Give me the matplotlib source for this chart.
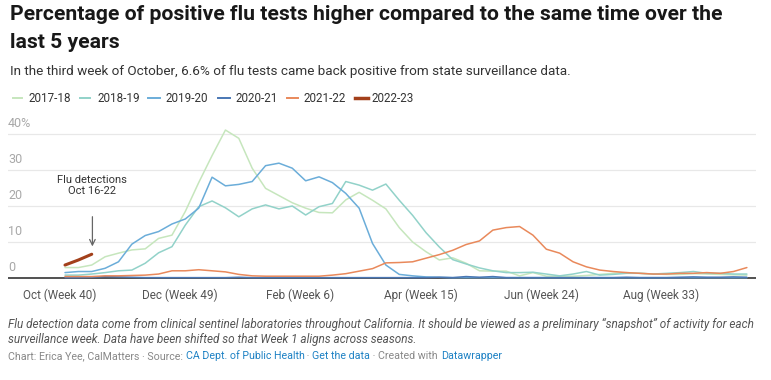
import matplotlib
matplotlib.use("Agg")
import matplotlib.pyplot as plt
from matplotlib.lines import Line2D
import numpy as np

plt.rcParams['font.family'] = ['Roboto', 'DejaVu Sans']

W, H = 771, 380

# season weeks: week 40 .. week 39 of the next year (52 points)
tick_pos = [0, 9, 18, 27, 36, 45]
tick_labels = ["Oct (Week 40)", "Dec (Week 49)", "Feb (Week 6)",
               "Apr (Week 15)", "Jun (Week 24)", "Aug (Week 33)"]

s2017 = [2.9, 2.9, 3.6, 5.9, 6.9, 7.8, 8.1, 11.0, 11.9, 18.5, 26.5, 34.0, 41.1,
         38.8, 30.5, 24.9, 22.9, 20.9, 19.4, 18.2, 18.1, 21.7, 23.8, 21.6, 19.2,
         14.0, 10.0, 7.3, 5.0, 5.6, 4.1, 2.0, 1.9, 1.9, 0.6, 1.5, 0.5, 0.5, 0.5,
         0.7, 1.0, 1.3, 1.5, 1.3, 1.1, 1.0, 1.0, 1.2, 1.1, 1.0, 0.9, 0.8]
s2018 = [0.8, 0.8, 1.1, 1.5, 2.0, 2.2, 4.1, 7.0, 8.7, 14.7, 19.8, 21.4, 19.5,
         17.0, 19.2, 20.3, 19.2, 20.0, 17.5, 19.8, 20.7, 26.8, 25.8, 24.4, 26.1,
         21.6, 17.4, 12.6, 8.6, 5.1, 3.9, 2.8, 2.0, 1.5, 1.5, 1.6, 1.1, 0.6, 1.1,
         1.8, 0.8, 1.0, 1.3, 1.3, 1.1, 1.3, 1.5, 1.8, 1.3, 1.3, 1.1, 1.1]
s2019 = [1.5, 1.8, 1.8, 2.7, 4.5, 9.4, 11.8, 12.9, 15.0, 16.4, 19.4, 28.0, 25.6,
         26.0, 26.8, 31.2, 31.9, 30.5, 27.0, 28.1, 26.5, 23.5, 19.4, 9.6, 3.6,
         1.0, 0.6, 0.3, 0.2, 0.1, 0.1, 0.1, 0.1, 0.1, 0.1, 0.1, 0.1, 0.1, 0.1,
         0.1, 0.1, 0.1, 0.1, 0.1, 0.1, 0.1, 0.1, 0.1, 0.1, 0.1, 0.1, 0.1]
s2020 = [0.1, 0.1, 0.2, 0.4, 0.3, 0.2, 0.1, 0.1, 0.1, 0.1, 0.1, 0.1, 0.1, 0.2,
         0.1, 0.1, 0.1, 0.1, 0.1, 0.1, 0.1, 0.1, 0.1, 0.1, 0.1, 0.1, 0.1, 0.1,
         0.2, 0.1, 0.4, 0.2, 0.4, 0.1, 0.1, 0.1, 0.1, 0.1, 0.1, 0.1, 0.1, 0.1,
         0.2, 0.1, 0.1, 0.1, 0.2, 0.3, 0.2, 0.2, 0.3, 0.2]
s2021 = [0.4, 0.4, 0.4, 0.6, 0.6, 0.7, 0.8, 1.1, 2.0, 2.0, 2.3, 2.0, 1.7, 1.0,
         0.6, 0.5, 0.5, 0.5, 0.5, 0.5, 0.8, 1.2, 1.9, 2.6, 4.2, 4.3, 4.5, 5.5,
         6.5, 7.7, 9.3, 10.3, 13.3, 14.0, 14.3, 11.9, 8.0, 6.9, 4.5, 3.1, 2.2,
         1.8, 1.5, 1.3, 1.1, 1.1, 1.3, 1.3, 1.5, 1.3, 1.8, 2.9]
s2022 = [3.6, 5.0, 6.6]

seasons = ["2017-18", "2018-19", "2019-20", "2020-21", "2021-22", "2022-23"]
series = [s2017, s2018, s2019, s2020, s2021, s2022]
colors = ["#c6e6bd", "#92d2c9", "#6badd9", "#4a77b4", "#e9895b", "#a3401b"]
widths = [1.1, 1.1, 1.1, 1.1, 1.1, 2.2]


def px(x, y):
    return x / W, 1 - y / H


fig = plt.figure(figsize=(W / 100, H / 100), dpi=100)
fig.patch.set_facecolor("white")

# plot area: x pixel 8..756, y pixel 125..282 (0% at 278, 10% = 36px)
l, b = px(8, 282)
r, t = px(756, 125)
ax = fig.add_axes([l, b, r - l, t - b])
x0, dx = 65, 13.37
ax.set_xlim((8 - x0) / dx, (756 - x0) / dx)
ax.set_ylim(-(282 - 278) / 3.6, (278 - 125) / 3.6)

for sp in ax.spines.values():
    sp.set_visible(False)
ax.set_yticks([])
for v in [10, 20, 30, 40]:
    ax.axhline(v, color="#e8e8e8", lw=0.9, zorder=0)
ax.axhline(0, color="#222222", lw=1.1, zorder=1)
for v in [0, 10, 20, 30, 40]:
    lab = "40%" if v == 40 else str(v)
    ax.annotate(lab, xy=(0, v), xycoords=ax.get_yaxis_transform(),
                xytext=(0, 3), textcoords="offset points",
                ha="left", va="bottom", fontsize=9, color="#a8a8a8")

for name, vals, c, lw in zip(seasons, series, colors, widths):
    ax.plot(np.arange(len(vals)), vals, color=c, lw=lw, zorder=3,
            solid_capstyle="round")

ax.set_xticks([p - 0.4 for p in tick_pos])
ax.set_xticklabels(tick_labels)
ax.tick_params(axis="x", length=0, pad=5, labelsize=8.5, labelcolor="#555555")

ax.annotate("", xy=(2.05, 8.0), xytext=(2.05, 17.8),
            arrowprops=dict(arrowstyle="->,head_length=0.4,head_width=0.2",
                            color="#666666", lw=0.9))
ax.text(2.0, 25.7, "Flu detections\nOct 16-22", ha="center", va="center",
        fontsize=8, color="#333333", linespacing=1.15)

# title block
fig.text(*px(10, 15), "Percentage of positive flu tests higher compared to the same time over the",
         fontsize=15.2, fontweight="bold", color="#181818", va="center")
fig.text(*px(10, 42), "last 5 years",
         fontsize=15.2, fontweight="bold", color="#181818", va="center")
fig.text(*px(10, 71), "In the third week of October, 6.6% of flu tests came back positive from state surveillance data.",
         fontsize=9.7, color="#333333", va="center")

# legend
leg_x = [(13, 22, 28), (80, 90, 97), (148, 160, 166),
         (218, 230, 235), (287, 298, 303), (355, 368, 372)]
for (a, e, tx), name, c, lw in zip(leg_x, seasons, colors, widths):
    xa, ya = px(a, 98)
    xe, _ = px(e, 98)
    fig.add_artist(Line2D([xa, xe], [ya, ya], color=c, lw=lw + 0.3,
                          transform=fig.transFigure))
    fig.text(*px(tx, 98), name, fontsize=8.4, color="#333333", va="center")

# notes
fig.text(*px(8, 324), "Flu detection data come from clinical sentinel laboratories throughout California. "
         "It should be viewed as a preliminary \u201csnapshot\u201d of activity for each",
         fontsize=8.5, style="italic", color="#555555", va="center")
fig.text(*px(8, 340), "surveillance week. Data have been shifted so that Week 1 aligns across seasons.",
         fontsize=8.5, style="italic", color="#555555", va="center")

pieces = [("Chart: Erica Yee, CalMatters \u00b7 Source: ", "#888888"),
          ("CA Dept. of Public Health", "#1d81c4"),
          (" \u00b7 ", "#888888"),
          ("Get the data", "#1d81c4"),
          (" \u00b7 Created with ", "#888888"),
          ("Datawrapper", "#1d81c4")]
renderer = fig.canvas.get_renderer()
cx = 8
for txt, c in pieces:
    tt = fig.text(*px(cx, 356), txt, fontsize=7.7, color=c, va="center")
    cx += tt.get_window_extent(renderer).width

fig.savefig("out.png", dpi=100, facecolor="white")
